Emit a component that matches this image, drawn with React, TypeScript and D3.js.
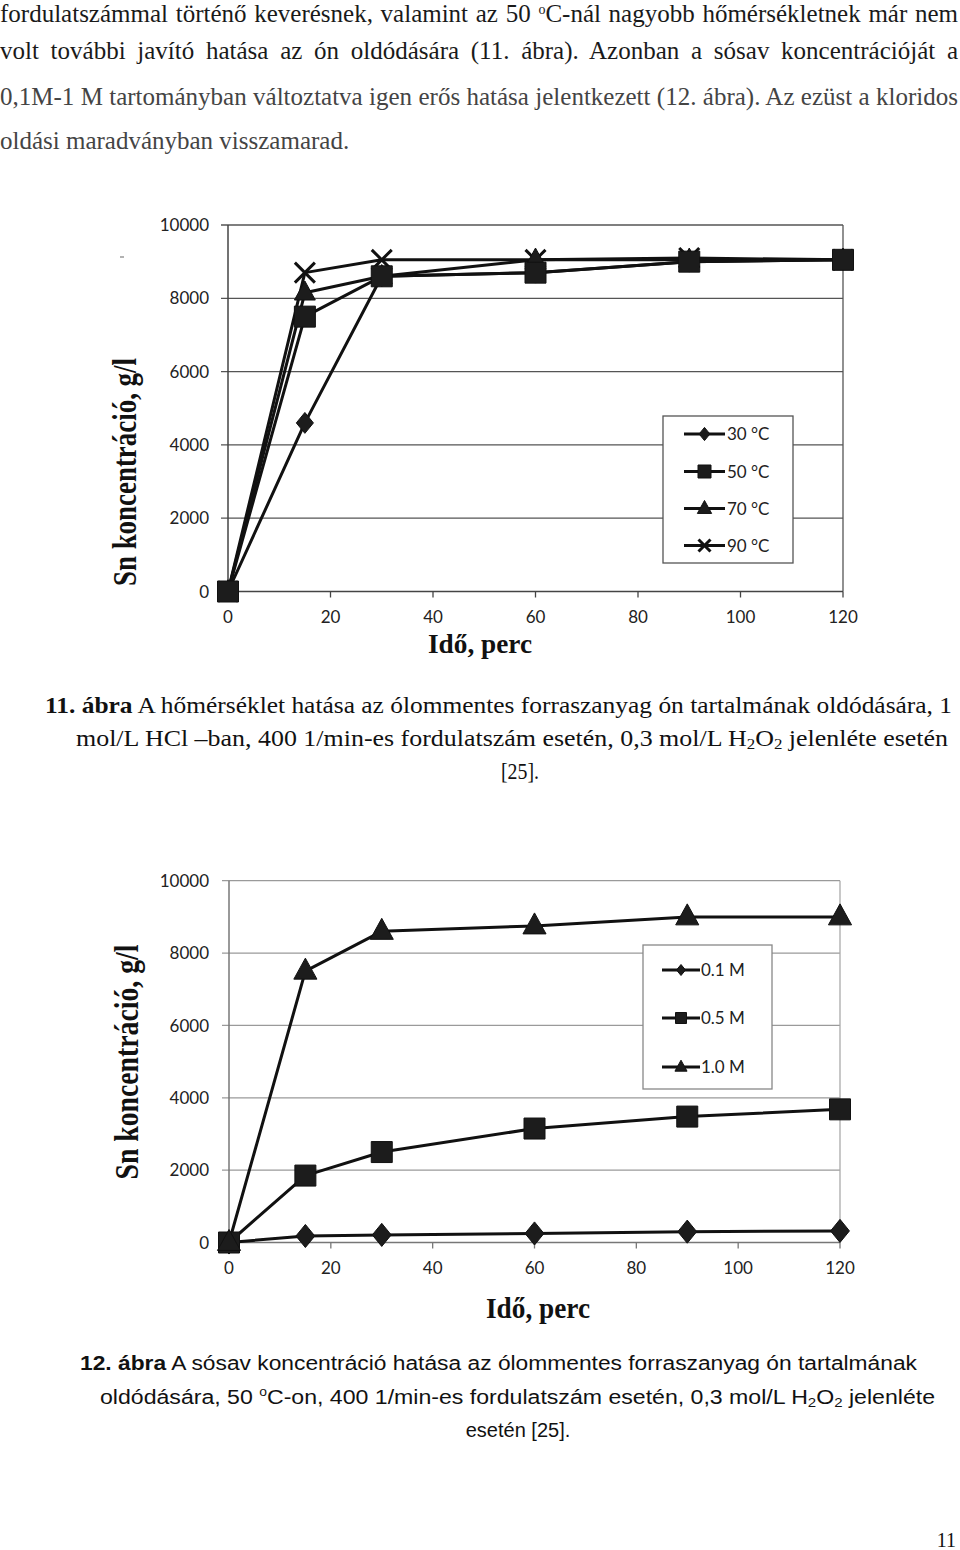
import React, { useLayoutEffect, useRef, useState } from "react";
import * as d3 from "d3";

// ---------- data ----------
const times = [0, 15, 30, 60, 90, 120];
const t30 = [0, 4600, 8600, 8700, 9000, 9050];
const t50 = [0, 7500, 8600, 8700, 9000, 9050];
const t70 = [0, 8150, 8600, 9050, 9050, 9050];
const t90 = [0, 8700, 9050, 9050, 9100, 9050];
const tempLabels = ["30 °C", "50 °C", "70 °C", "90 °C"];

const m01 = [0, 180, 210, 250, 300, 320];
const m05 = [0, 1850, 2500, 3150, 3480, 3680];
const m10 = [0, 7500, 8600, 8750, 9000, 9000];
const hclLabels = ["0.1 M", "0.5 M", "1.0 M"];

const yTicks = [0, 2000, 4000, 6000, 8000, 10000];
const xTicks = [0, 20, 40, 60, 80, 100, 120];

type Marker = "diamond" | "square" | "triangle" | "x";

function markerPath(type: Marker, s: number): string {
  if (type === "diamond") {
    const w = s * 0.45, h = s * 0.55;
    return `M0,${-h}L${w},0L0,${h}L${-w},0Z`;
  }
  if (type === "square") {
    const h = s / 2;
    return `M${-h},${-h}H${h}V${h}H${-h}Z`;
  }
  if (type === "triangle") {
    return `M0,${-s * 0.62}L${s * 0.55},${s * 0.38}L${-s * 0.55},${s * 0.38}Z`;
  }
  const h = s / 2;
  return `M${-h},${-h}L${h},${h}M${h},${-h}L${-h},${h}`;
}

function MarkerShape({ type, s, x, y }: { type: Marker; s: number; x: number; y: number }) {
  const isX = type === "x";
  return (
    <path
      transform={`translate(${x},${y})`}
      d={markerPath(type, s)}
      fill={isX ? "none" : "#1c1c1c"}
      stroke="#111"
      strokeWidth={isX ? 3 : 1}
    />
  );
}

interface Series {
  values: number[];
  marker: Marker;
  size: number;
  label: string;
  legendSize: number;
}

interface ChartProps {
  xr: [number, number];
  yr: [number, number];
  series: Series[];
  legendOrder: Series[];
  gridColor: string;
  axisColor: string;
  borderColor: string;
  legend: { x: number; y: number; w: number; h: number; rows: number[]; lx0: number; lx1: number; tx: number; stroke: string };
  xTitle: { x: number; y: number; size: number; len: number };
  yTitle: { x: number; y: number; size: number; len: number };
  xLabelY: number;
  yLabelX: number;
}

const tickFont = "Lato, 'Open Sans', sans-serif";
const serif = "'Liberation Serif', 'Times New Roman', serif";

function Chart(p: ChartProps) {
  const x = d3.scaleLinear().domain([0, 120]).range(p.xr);
  const y = d3.scaleLinear().domain([0, 10000]).range(p.yr);
  const line = d3
    .line<number>()
    .x((_, i) => x(times[i]))
    .y((v) => y(v));
  const L = p.legend;
  return (
    <g>
      {yTicks.filter((t) => t > 0).map((t) => (
        <line key={"g" + t} x1={x(0) - 7} x2={x(120)} y1={y(t)} y2={y(t)} stroke={p.gridColor} strokeWidth={1.3} />
      ))}
      <line x1={x(120)} x2={x(120)} y1={y(10000)} y2={y(0)} stroke={p.borderColor} strokeWidth={1.3} />
      <line x1={x(0)} x2={x(0)} y1={y(10000)} y2={y(0)} stroke={p.axisColor} strokeWidth={1.5} />
      <line x1={x(0) - 7} x2={x(120)} y1={y(0)} y2={y(0)} stroke={p.axisColor} strokeWidth={1.5} />
      {xTicks.map((t) => (
        <line key={"xt" + t} x1={x(t)} x2={x(t)} y1={y(0)} y2={y(0) + 6} stroke={p.axisColor} strokeWidth={1.3} />
      ))}
      {yTicks.map((t) => (
        <text key={"yl" + t} x={p.yLabelX} y={y(t)} dy="0.36em" textAnchor="end" fontFamily={tickFont} fontSize={17} fill="#222">
          {t}
        </text>
      ))}
      {xTicks.map((t) => (
        <text key={"xl" + t} x={x(t)} y={p.xLabelY} textAnchor="middle" fontFamily={tickFont} fontSize={17} fill="#222">
          {t}
        </text>
      ))}
      <rect x={L.x} y={L.y} width={L.w} height={L.h} fill="#fff" stroke={L.stroke} strokeWidth={1.3} />
      {p.legendOrder.map((s, i) => (
        <g key={"lg" + i}>
          <line x1={L.lx0} x2={L.lx1} y1={L.rows[i]} y2={L.rows[i]} stroke="#111" strokeWidth={3} />
          <MarkerShape type={s.marker} s={s.legendSize} x={(L.lx0 + L.lx1) / 2} y={L.rows[i]} />
          <text x={L.tx} y={L.rows[i]} dy="0.36em" fontFamily={tickFont} fontSize={17} fill="#222">
            {s.label}
          </text>
        </g>
      ))}
      {p.series.map((s, si) => (
        <path key={"ln" + si} d={line(s.values) || ""} fill="none" stroke="#111" strokeWidth={3} strokeLinejoin="round" />
      ))}
      {p.series.map((s, si) =>
        s.values.map((v, i) => <MarkerShape key={"m" + si + "-" + i} type={s.marker} s={s.size} x={x(times[i])} y={y(v)} />)
      )}
      <text
        x={p.xTitle.x}
        y={p.xTitle.y}
        textAnchor="middle"
        fontFamily={serif}
        fontWeight="bold"
        fontSize={p.xTitle.size}
        textLength={p.xTitle.len}
        lengthAdjust="spacingAndGlyphs"
        fill="#111"
      >
        Idő, perc
      </text>
      <text
        transform={`translate(${p.yTitle.x},${p.yTitle.y}) rotate(-90)`}
        textAnchor="middle"
        fontFamily={serif}
        fontWeight="bold"
        fontSize={p.yTitle.size}
        textLength={p.yTitle.len}
        lengthAdjust="spacingAndGlyphs"
        fill="#111"
      >
        Sn koncentráció, g/l
      </text>
    </g>
  );
}

// A line of text justified by widening (or narrowing) the word spaces.
function JustLine({ x, y, target, fill, children }: { x: number; y: number; target: number; fill?: string; children: React.ReactNode }) {
  const ref = useRef<SVGTextElement>(null);
  const [ws, setWs] = useState(0);
  useLayoutEffect(() => {
    const el = ref.current;
    if (!el) return;
    const n = ((el.textContent || "").match(/ /g) || []).length;
    const w = el.getComputedTextLength() - ws * n;
    if (n > 0) setWs((target - w) / n);
    // eslint-disable-next-line react-hooks/exhaustive-deps
  }, [target]);
  return (
    <text ref={ref} x={x} y={y} wordSpacing={ws} fill={fill}>
      {children}
    </text>
  );
}

export default function App() {
  const s30: Series = { values: t30, marker: "diamond", size: 19, label: tempLabels[0], legendSize: 12 };
  const s50: Series = { values: t50, marker: "square", size: 21, label: tempLabels[1], legendSize: 13 };
  const s70: Series = { values: t70, marker: "triangle", size: 19, label: tempLabels[2], legendSize: 13 };
  const s90: Series = { values: t90, marker: "x", size: 20, label: tempLabels[3], legendSize: 12 };

  const h01: Series = { values: m01, marker: "diamond", size: 21, label: hclLabels[0], legendSize: 10 };
  const h05: Series = { values: m05, marker: "square", size: 21, label: hclLabels[1], legendSize: 11 };
  const h10: Series = { values: m10, marker: "triangle", size: 21, label: hclLabels[2], legendSize: 11 };

  return (
    <svg width={960} height={1550} style={{ position: "absolute", left: 0, top: 0, background: "#fff" }}>
      <rect x={0} y={0} width={960} height={1550} fill="#fff" />
      {/* paragraph */}
      <g fontFamily={serif} fontSize={25} fill="#1a1a1a">
        <JustLine x={0} y={22} target={958}>
          fordulatszámmal történő keverésnek, valamint az 50 <tspan fontSize={14} dy={-8}>o</tspan>
          <tspan dy={8}>C-nál nagyobb hőmérsékletnek már nem</tspan>
        </JustLine>
        <JustLine x={0} y={59} target={958}>
          volt további javító hatása az ón oldódására (11. ábra). Azonban a sósav koncentrációját a
        </JustLine>
        <JustLine x={0} y={105} target={958} fill="#444">
          0,1M-1 M tartományban változtatva igen erős hatása jelentkezett (12. ábra). Az ezüst a kloridos
        </JustLine>
        <text x={0} y={149} fill="#444">
          oldási maradványban visszamarad.
        </text>
      </g>

      {/* stray mark */}
      <line x1={120} x2={124} y1={257} y2={257} stroke="#999" strokeWidth={1.5} />

      <Chart
        xr={[228, 843]}
        yr={[591.5, 225]}
        series={[s90, s70, s30, s50]}
        legendOrder={[s30, s50, s70, s90]}
        gridColor="#555"
        axisColor="#444"
        borderColor="#555"
        legend={{ x: 663, y: 416, w: 130, h: 147, rows: [434, 471.5, 508.5, 545.5], lx0: 684, lx1: 725, tx: 727, stroke: "#555" }}
        xTitle={{ x: 480, y: 653, size: 27, len: 104 }}
        yTitle={{ x: 136, y: 472, size: 33, len: 228 }}
        xLabelY={623}
        yLabelX={209}
      />

      {/* caption 11 */}
      <g fontFamily={serif} fontSize={23} fill="#111">
        <text x={45} y={713} textLength={907} lengthAdjust="spacingAndGlyphs">
          <tspan fontWeight="bold">11. ábra</tspan> A hőmérséklet hatása az ólommentes forraszanyag ón tartalmának oldódására, 1
        </text>
        <text x={76} y={746} textLength={872} lengthAdjust="spacingAndGlyphs">
          mol/L HCl –ban, 400 1/min-es fordulatszám esetén, 0,3 mol/L H<tspan fontSize={15} dy={3}>2</tspan>
          <tspan dy={-3}>O</tspan>
          <tspan fontSize={15} dy={3}>2</tspan>
          <tspan dy={-3}> jelenléte esetén</tspan>
        </text>
        <text x={520} y={779} textAnchor="middle" textLength={38} lengthAdjust="spacingAndGlyphs">
          [25].
        </text>
      </g>

      <Chart
        xr={[229, 840]}
        yr={[1242.5, 880.7]}
        series={[h01, h05, h10]}
        legendOrder={[h01, h05, h10]}
        gridColor="#9a9a9a"
        axisColor="#777"
        borderColor="#aaa"
        legend={{ x: 643, y: 945, w: 129, h: 144, rows: [970, 1018, 1067], lx0: 662, lx1: 700, tx: 701, stroke: "#888" }}
        xTitle={{ x: 538, y: 1318, size: 30, len: 104 }}
        yTitle={{ x: 138, y: 1062, size: 33, len: 235 }}
        xLabelY={1274}
        yLabelX={209}
      />

      {/* caption 12 */}
      <g fontFamily="'Liberation Sans', Arial, sans-serif" fontSize={20} fill="#111">
        <text x={80} y={1370} textLength={837} lengthAdjust="spacingAndGlyphs">
          <tspan fontWeight="bold">12. ábra</tspan> A sósav koncentráció hatása az ólommentes forraszanyag ón tartalmának
        </text>
        <text x={100} y={1404} textLength={835} lengthAdjust="spacingAndGlyphs">
          oldódására, 50 <tspan fontSize={12} dy={-8}>o</tspan>
          <tspan dy={8}>C-on, 400 1/min-es fordulatszám esetén, 0,3 mol/L H</tspan>
          <tspan fontSize={13} dy={3}>2</tspan>
          <tspan dy={-3}>O</tspan>
          <tspan fontSize={13} dy={3}>2</tspan>
          <tspan dy={-3}> jelenléte</tspan>
        </text>
        <text x={518} y={1437} textAnchor="middle">
          esetén [25].
        </text>
      </g>

      <text x={956} y={1547} textAnchor="end" fontFamily={serif} fontSize={20} fill="#111">
        11
      </text>
    </svg>
  );
}
